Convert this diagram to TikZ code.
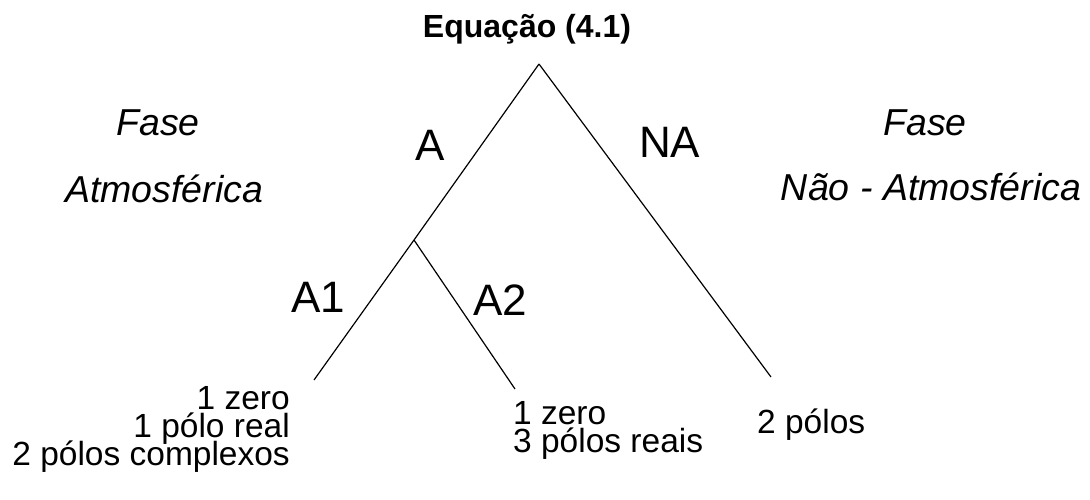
\documentclass[tikz,border=0pt]{standalone}
\usepackage{fontspec}
\setmainfont{Liberation Sans}
\newcommand{\leaffont}{\fontsize{33.5}{28}\selectfont\lineskiplimit-100pt\relax\lineskip0pt\relax}
\begin{document}
\begin{tikzpicture}[x=1pt,y=-1pt,
  branch/.style={line width=1.2pt, black},
  lbl/.style={inner sep=0pt, font=\fontsize{44}{48}\selectfont},
  phase/.style={inner sep=0pt, font=\fontsize{37.5}{40}\selectfont\itshape},
  leaf/.style={inner sep=0pt, font=\leaffont}]
\useasboundingbox (0,0) rectangle (1090,499);
% title
\node[inner sep=0pt, anchor=base, font=\fontsize{32}{36}\selectfont\bfseries] (title) at (527,37) {Equação (4.1)};
% branch points
\coordinate (top) at (539,64);
\coordinate (split) at (414,240);
\coordinate (a1end) at (314,380);
\coordinate (a2end) at (515,389);
\coordinate (naend) at (771,377);
\draw[branch] (top) -- (split) -- (a1end);
\draw[branch] (split) -- (a2end);
\draw[branch] (top) -- (naend);
% branch labels
\node[lbl, anchor=base west] (A) at (415,160) {A};
\node[lbl, anchor=base west] (NA) at (639,157) {NA};
\node[lbl, anchor=base west] (A1) at (291,312) {A1};
\node[lbl, anchor=base west] (A2) at (473,315) {A2};
% phases
\node[phase, anchor=base] (faseL) at (158,135) {Fase};
\node[phase, anchor=base] (atmL) at (164,202) {Atmosférica};
\node[phase, anchor=base] (faseR) at (925,135) {Fase};
\node[phase, anchor=base] (atmR) at (931,200) {Não - Atmosférica};
% leaves (base anchor = baseline of last line)
\node[leaf, align=right, anchor=base east] (l1) at (290,465) {1 zero\\1 pólo real\\2 pólos complexos};
\node[leaf, align=left, anchor=base west] (l2) at (513,452) {1 zero\\3 pólos reais};
\node[leaf, anchor=base west] (l3) at (757,433) {2 pólos};
\end{tikzpicture}
\end{document}
